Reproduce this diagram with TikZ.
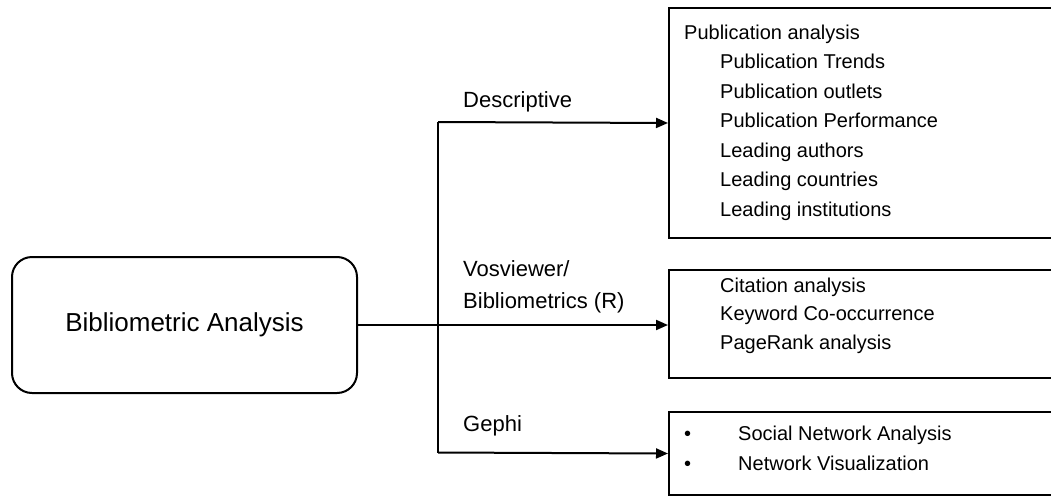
\documentclass[tikz,border=0pt]{standalone}
\usepackage{fontspec}
\setmainfont{Liberation Sans}
\usetikzlibrary{arrows.meta}
\begin{document}
\begin{tikzpicture}[x=1pt,y=-1pt,
  line/.style={draw=black,line width=2pt},
  arr/.style={line,-{Triangle[length=12pt,width=10pt]}},
  box/.style={draw=black,line width=2pt,anchor=north west,minimum width=450pt,inner sep=0pt},
  lab/.style={inner sep=0pt,anchor=base west,font=\fontsize{22}{26}\selectfont},
  itm/.style={inner sep=0pt,anchor=base west,font=\fontsize{20}{24}\selectfont}]
\clip (0,0) rectangle (1051,495);
\fill[white] (0,0) rectangle (1051,495);
% main box
\node[draw=black,line width=2pt,rounded corners=20pt,minimum width=345pt,minimum height=136pt,inner sep=0pt,
  font=\fontsize{26}{30}\selectfont] (main) at (184.5,325) {Bibliometric Analysis};
% target boxes
\node[box,minimum height=230pt] (pubbox) at (668,7) {};
\node[box,minimum height=108pt] (citbox) at (668,269) {};
\node[box,minimum height=83pt] (snabox) at (668,411) {};
% junction
\coordinate (jtop) at (438,122);
\coordinate (jmid) at (438,325);
\coordinate (jbot) at (438,452.5);
\draw[line] (main.east) -- (jmid);
\draw[line] (jtop) -- (jbot);
\draw[arr] (jtop) -- (pubbox.west);
\draw[arr] (jmid) -- (citbox.west |- jmid);
\draw[arr] (jbot) -- (snabox.west);
% branch labels
\node[lab] (ldesc) at (463,107) {Descriptive};
\node[lab] (lvos1) at (463,276) {Vosviewer/};
\node[lab] (lvos2) at (463,308) {Bibliometrics (R)};
\node[lab] (lgephi) at (463,431) {Gephi};
% top box text
\node[itm] (p0) at (684,39.3) {Publication analysis};
\node[itm] (p1) at (720,68.8) {Publication Trends};
\node[itm] (p2) at (720,98.2) {Publication outlets};
\node[itm] (p3) at (720,127.6) {Publication Performance};
\node[itm] (p4) at (720,157) {Leading authors};
\node[itm] (p5) at (720,186.4) {Leading countries};
\node[itm] (p6) at (720,216) {Leading institutions};
% middle box text
\node[itm] (c1) at (720,292) {Citation analysis};
\node[itm] (c2) at (720,320.5) {Keyword Co-occurrence};
\node[itm] (c3) at (720,349) {PageRank analysis};
% bottom box text
\node[itm] (b1) at (684,440) {•};
\node[itm] (b2) at (684,470) {•};
\node[itm] (s1) at (738,440) {Social Network Analysis};
\node[itm] (s2) at (738,470) {Network Visualization};
\end{tikzpicture}
\end{document}
